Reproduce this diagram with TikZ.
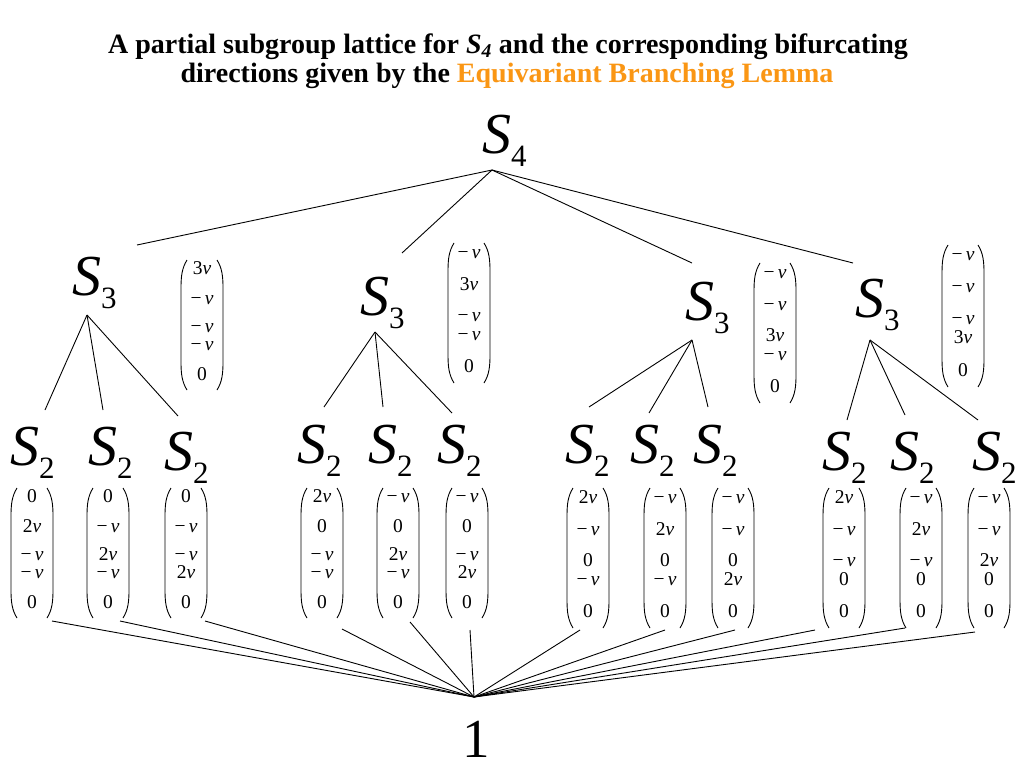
\documentclass[tikz,border=0pt]{standalone}
\usepackage{fontspec}
\setmainfont{Liberation Serif}
\definecolor{ebl}{RGB}{250,150,20}
\tikzset{
  lbl/.style={inner sep=0pt, anchor=base west, font=\fontsize{58}{58}\selectfont},
  one/.style={inner sep=0pt, anchor=base, font=\fontsize{55}{55}\selectfont},
  entry/.style={inner sep=0pt, anchor=mid, text height=9pt, text depth=0pt, font=\fontsize{19.5}{19.5}\selectfont},
  vecbox/.style={inner sep=0pt, minimum width=42pt},
  paren/.style={line width=0.9pt},
  edge/.style={line width=0.9pt},
  ttl/.style={inner sep=0pt, anchor=base, font=\fontsize{28}{28}\selectfont\bfseries}
}
\newcommand\grp[1]{\textit{S}\raisebox{-13pt}{\fontsize{31}{31}\selectfont #1}}
\newcommand\mv{−\,\textit{v}}
\newcommand\tw{2\textit{v}}
\newcommand\thr{3\textit{v}}
% name, cx, top, bottom, five entries
\newcommand\dirvec[9]{%
  \pgfmathsetmacro\dvH{#4-#3}%
  \pgfmathsetmacro\dvM{(#3+#4)/2}%
  \pgfmathsetmacro\dvA{#3+\dvH/140*13}%
  \pgfmathsetmacro\dvB{#3+\dvH/140*45}%
  \pgfmathsetmacro\dvC{#3+\dvH/140*76}%
  \pgfmathsetmacro\dvD{#3+\dvH/140*95}%
  \pgfmathsetmacro\dvE{#3+\dvH/140*127}%
  \pgfmathsetmacro\dvL{#2-21}%
  \pgfmathsetmacro\dvLa{#2-20}%
  \pgfmathsetmacro\dvLb{#2-15}%
  \pgfmathsetmacro\dvR{#2+21}%
  \pgfmathsetmacro\dvRa{#2+20}%
  \pgfmathsetmacro\dvRb{#2+15}%
  \pgfmathsetmacro\dvTa{#3+8}%
  \pgfmathsetmacro\dvTb{#3+16}%
  \pgfmathsetmacro\dvTc{#3+28}%
  \pgfmathsetmacro\dvBa{#4-8}%
  \pgfmathsetmacro\dvBb{#4-16}%
  \pgfmathsetmacro\dvBc{#4-28}%
  \node[vecbox, minimum height=\dvH pt] (#1) at (#2,\dvM) {};
  \node[entry] (#1-1) at (#2,\dvA) {#5};
  \node[entry] (#1-2) at (#2,\dvB) {#6};
  \node[entry] (#1-3) at (#2,\dvC) {#7};
  \node[entry] (#1-4) at (#2,\dvD) {#8};
  \node[entry] (#1-5) at (#2,\dvE) {#9};
  \draw[paren] (\dvLb,#3) .. controls (\dvLa,\dvTa) and (\dvL,\dvTb) .. (\dvL,\dvTc)
     -- (\dvL,\dvBc) .. controls (\dvL,\dvBb) and (\dvLa,\dvBa) .. (\dvLb,#4);
  \draw[paren] (\dvRb,#3) .. controls (\dvRa,\dvTa) and (\dvR,\dvTb) .. (\dvR,\dvTc)
     -- (\dvR,\dvBc) .. controls (\dvR,\dvBb) and (\dvRa,\dvBa) .. (\dvRb,#4);
}
\begin{document}
\begin{tikzpicture}[x=1pt,y=-1pt]
\fill[white] (0,0) rectangle (1024,768);
\useasboundingbox (0,0) rectangle (1024,768);

% title
\node[ttl] (t1) at (508,53) {A partial subgroup lattice for \textit{S}\textsubscript{\textit{4}} and the corresponding bifurcating};
\node[ttl] (t2) at (507,82) {directions given by the \textcolor{ebl}{Equivariant Branching Lemma}};

% group labels
\node[lbl] (s4) at (482,153) {\grp{4}};
\node[lbl] (s3a) at (72,295) {\grp{3}};
\node[lbl] (s3b) at (360,315) {\grp{3}};
\node[lbl] (s3c) at (685,320) {\grp{3}};
\node[lbl] (s3d) at (855,317) {\grp{3}};
\node[lbl] (s2a) at (10,465) {\grp{2}};
\node[lbl] (s2b) at (88,465) {\grp{2}};
\node[lbl] (s2c) at (164,470) {\grp{2}};
\node[lbl] (s2d) at (297,463) {\grp{2}};
\node[lbl] (s2e) at (368,463) {\grp{2}};
\node[lbl] (s2f) at (437,463) {\grp{2}};
\node[lbl] (s2g) at (565,463) {\grp{2}};
\node[lbl] (s2h) at (630,463) {\grp{2}};
\node[lbl] (s2i) at (693,463) {\grp{2}};
\node[lbl] (s2j) at (822,470) {\grp{2}};
\node[lbl] (s2k) at (890,470) {\grp{2}};
\node[lbl] (s2l) at (972,470) {\grp{2}};
\node[one] (one) at (476,757) {1};

% direction vectors
\dirvec{v3a}{202}{260}{390}{\thr}{\mv}{\mv}{\mv}{0}
\dirvec{v3b}{469}{243}{383}{\mv}{\thr}{\mv}{\mv}{0}
\dirvec{v3c}{775}{263}{403}{\mv}{\mv}{\thr}{\mv}{0}
\dirvec{v3d}{963}{245}{387}{\mv}{\mv}{\mv}{\thr}{0}
\dirvec{v2a}{32}{488}{618}{0}{\tw}{\mv}{\mv}{0}
\dirvec{v2b}{108}{488}{618}{0}{\mv}{\tw}{\mv}{0}
\dirvec{v2c}{186}{488}{618}{0}{\mv}{\mv}{\tw}{0}
\dirvec{v2d}{322}{488}{618}{\tw}{0}{\mv}{\mv}{0}
\dirvec{v2e}{398}{488}{618}{\mv}{0}{\tw}{\mv}{0}
\dirvec{v2f}{467}{488}{618}{\mv}{0}{\mv}{\tw}{0}
\dirvec{v2g}{588}{488}{628}{\tw}{\mv}{0}{\mv}{0}
\dirvec{v2h}{665}{488}{628}{\mv}{\tw}{0}{\mv}{0}
\dirvec{v2i}{733}{488}{628}{\mv}{\mv}{0}{\tw}{0}
\dirvec{v2j}{844}{488}{628}{\tw}{\mv}{\mv}{0}{0}
\dirvec{v2k}{921}{488}{628}{\mv}{\tw}{\mv}{0}{0}
\dirvec{v2l}{989}{488}{628}{\mv}{\mv}{\tw}{0}{0}

% connector ends
\coordinate (s4b) at (492,170);
\coordinate (s3at) at (137,245);
\coordinate (s3bt) at (402,253);
\coordinate (s3ct) at (692,263);
\coordinate (s3dt) at (853,263);
\coordinate (s3ab) at (87,315);
\coordinate (s3bb) at (375,332);
\coordinate (s3cb) at (692,340);
\coordinate (s3db) at (870,340);
\coordinate (s2at) at (45,410);
\coordinate (s2bt) at (103,410);
\coordinate (s2ct) at (178,416);
\coordinate (s2dt) at (324,407);
\coordinate (s2et) at (383,407);
\coordinate (s2ft) at (452,413);
\coordinate (s2gt) at (589,407);
\coordinate (s2ht) at (649,413);
\coordinate (s2it) at (708,407);
\coordinate (s2jt) at (847,420);
\coordinate (s2kt) at (905,415);
\coordinate (s2lt) at (978,420);
\coordinate (v2ab) at (52,621);
\coordinate (v2bb) at (120,621);
\coordinate (v2cb) at (205,621);
\coordinate (v2db) at (342,629);
\coordinate (v2eb) at (410,622);
\coordinate (v2fb) at (470,630);
\coordinate (v2gb) at (580,630);
\coordinate (v2hb) at (665,630);
\coordinate (v2ib) at (735,630);
\coordinate (v2jb) at (815,630);
\coordinate (v2kb) at (905,628);
\coordinate (v2lb) at (975,632);
\coordinate (onet) at (474,697);

% connectors
\foreach \t in {s3at,s3bt,s3ct,s3dt} \draw[edge] (s4b) -- (\t);
\foreach \t in {s2at,s2bt,s2ct} \draw[edge] (s3ab) -- (\t);
\foreach \t in {s2dt,s2et,s2ft} \draw[edge] (s3bb) -- (\t);
\foreach \t in {s2gt,s2ht,s2it} \draw[edge] (s3cb) -- (\t);
\foreach \t in {s2jt,s2kt,s2lt} \draw[edge] (s3db) -- (\t);
\foreach \t in {v2ab,v2bb,v2cb,v2db,v2eb,v2fb,v2gb,v2hb,v2ib,v2jb,v2kb,v2lb} \draw[edge] (\t) -- (onet);
\end{tikzpicture}
\end{document}
